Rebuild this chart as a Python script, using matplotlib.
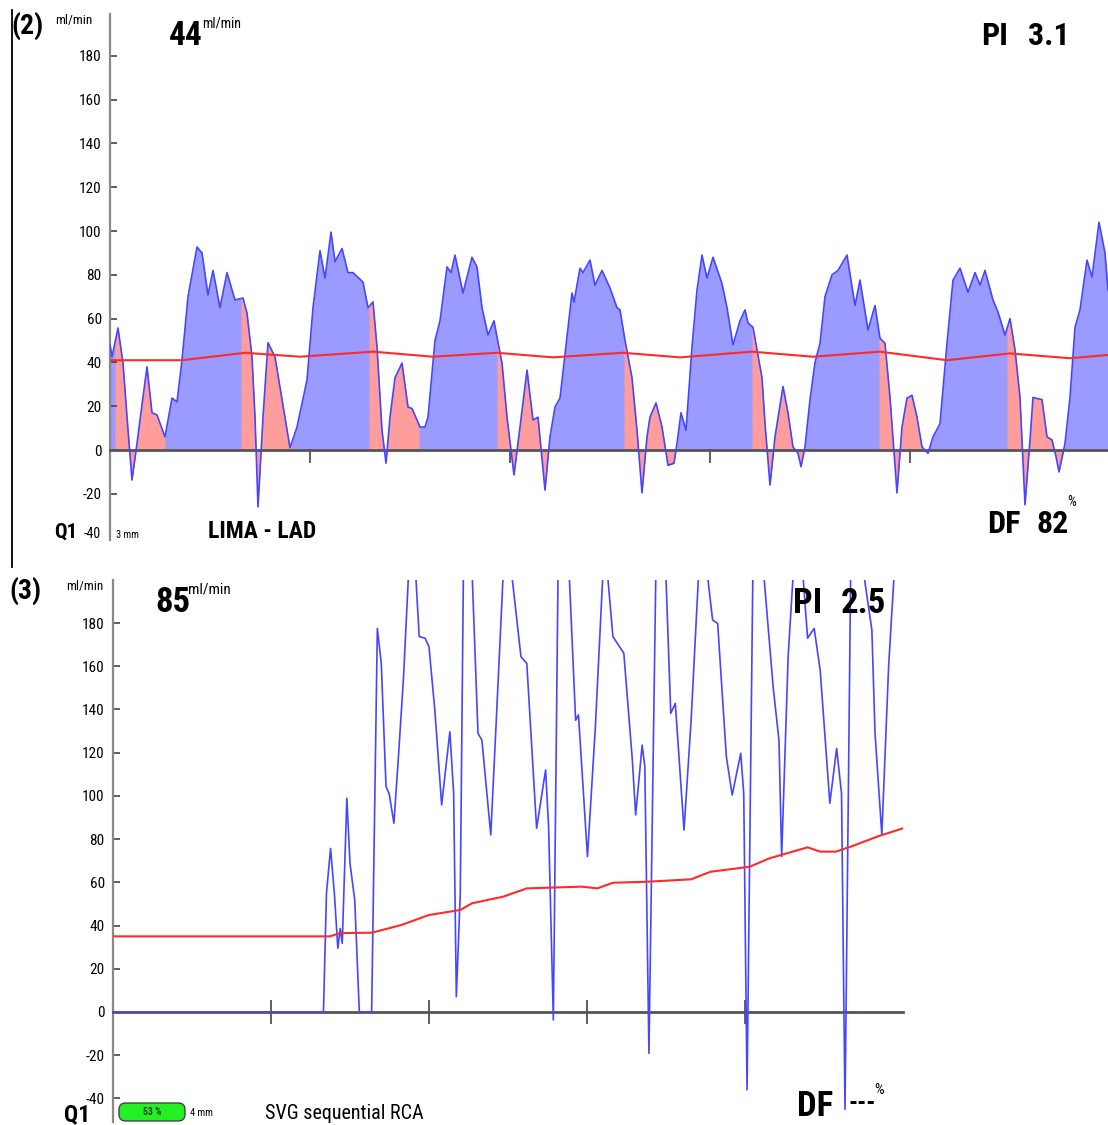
import numpy as np
import matplotlib
matplotlib.use("Agg")
import matplotlib.pyplot as plt
from matplotlib import font_manager
from matplotlib.patches import FancyBboxPatch
from matplotlib.lines import Line2D

W, H = 1108, 1125

# (2) LIMA - LAD : time (s) vs flow (ml/min)
top_t = [0.000, 0.010, 0.040, 0.065, 0.085, 0.110, 0.135, 0.150, 0.185, 0.210,
         0.235, 0.275, 0.310, 0.335, 0.360, 0.390, 0.435, 0.460, 0.490, 0.515,
         0.550, 0.585, 0.625, 0.665, 0.685, 0.710, 0.725, 0.740, 0.765, 0.790,
         0.825, 0.860, 0.900, 0.935, 0.985, 1.015, 1.050, 1.075, 1.105, 1.125,
         1.160, 1.190, 1.215, 1.265, 1.290, 1.315, 1.335, 1.360, 1.380, 1.400,
         1.425, 1.460, 1.490, 1.510, 1.550, 1.575, 1.590, 1.625, 1.650, 1.685,
         1.705, 1.725, 1.765, 1.810, 1.835, 1.860, 1.890, 1.920, 1.935, 1.960,
         1.985, 2.020, 2.050, 2.085, 2.115, 2.140, 2.175, 2.200, 2.225, 2.250,
         2.285, 2.310, 2.320, 2.350, 2.365, 2.400, 2.425, 2.460, 2.500, 2.535,
         2.550, 2.575, 2.610, 2.635, 2.660, 2.685, 2.700, 2.730, 2.760, 2.790,
         2.820, 2.835, 2.855, 2.880, 2.910, 2.935, 2.960, 2.985, 3.015, 3.060,
         3.085, 3.115, 3.150, 3.175, 3.190, 3.215, 3.235, 3.260, 3.275, 3.300,
         3.325, 3.365, 3.390, 3.415, 3.440, 3.455, 3.475, 3.500, 3.525, 3.550,
         3.575, 3.610, 3.640, 3.685, 3.725, 3.750, 3.790, 3.825, 3.850, 3.875,
         3.900, 3.935, 3.960, 3.985, 4.010, 4.035, 4.060, 4.090, 4.115, 4.150,
         4.185, 4.215, 4.250, 4.290, 4.325, 4.350, 4.375, 4.415, 4.440, 4.475,
         4.500, 4.525, 4.550, 4.575, 4.600, 4.615, 4.660, 4.685, 4.710, 4.730,
         4.745, 4.775, 4.800, 4.825, 4.850, 4.885, 4.910, 4.945, 4.975, 4.990]
top_flow = [48, 42.5, 55.7, 39.7, 15, -13.7, 3, 13.7, 38, 17,
            16, 6, 23.7, 22, 41, 70, 92.7, 90, 70.8, 82,
            65, 81, 68.5, 69.4, 62.5, 42.5, 15, -26, 15, 49,
            42.5, 23, 1, 10.5, 32, 65, 91, 78.5, 99.5, 86,
            92, 81, 81, 76.7, 65, 67.6, 47, 9, -6, 15,
            33, 39.7, 19.6, 19, 10.5, 10.5, 15, 50, 59, 83.6,
            81, 89, 71.7, 88, 83.6, 65, 52.5, 59, 51.6, 39.7,
            15, -11.4, 10.5, 36.5, 13.7, 15, -18.3, 6, 19.6, 23.7,
            51.6, 71.7, 67.6, 83, 81, 86.7, 75.3, 82, 74, 65,
            64, 50, 33, 9, -19.6, 6, 15, 21.5, 10.5, -7,
            -6, 3, 17, 9, 47, 73, 89, 78.5, 88, 76,
            65, 48, 59, 64, 58, 56, 45.7, 33, 12, -16,
            6, 29, 17, 1.4, -1.5, -7.6, 1.4, 23, 40, 48.7,
            70, 80, 82, 89, 66, 77.6, 54.8, 66, 51, 48.7,
            24, -19.6, 10.5, 23.7, 25, 15, 1.4, -1.5, 6, 12,
            48.7, 77.6, 83, 72, 81, 75.3, 82, 68.5, 63, 52.5,
            60, 45.7, 24, -25, 4.6, 24, 23, 6, 4.6, -3,
            -10, 3, 24, 56, 64, 86.7, 79, 104, 90, 73]
top_mean_t = [0.0, 0.36, 0.675, 0.95, 1.315, 1.615, 1.935, 2.215, 2.565, 2.85,
              3.21, 3.515, 3.85, 4.185, 4.5, 4.8, 4.99]
top_mean = [41, 41, 44.4, 42.6, 44.9, 42.6, 44.4, 42.3, 44.4, 42.3,
            44.9, 42.6, 44.9, 41, 44.1, 41.9, 43.4]
# systolic segments (pink fill)
top_systole = [(0.025, 0.275), (0.655, 0.910), (1.295, 1.545), (1.935, 2.195),
               (2.570, 2.835), (3.210, 3.465), (3.845, 4.095), (4.485, 4.775)]
top_yticks = [-20, 0, 20, 40, 60, 80, 100, 120, 140, 160, 180]

# (3) SVG sequential RCA
bot_t = [0.000, 1.332, 1.351, 1.377, 1.401, 1.423, 1.438, 1.451, 1.480, 1.500,
         1.530, 1.559, 1.637, 1.673, 1.698, 1.728, 1.748, 1.778, 1.808, 1.839,
         1.872, 1.892, 1.914, 1.938, 1.975, 2.000, 2.037, 2.080, 2.132, 2.156,
         2.173, 2.198, 2.218, 2.245, 2.272, 2.310, 2.335, 2.391, 2.434, 2.471,
         2.495, 2.520, 2.582, 2.619, 2.681, 2.738, 2.757, 2.787, 2.817, 2.851,
         2.886, 2.928, 2.946, 3.003, 3.053, 3.102, 3.114, 3.127, 3.164, 3.233,
         3.287, 3.308, 3.349, 3.366, 3.392, 3.436, 3.467, 3.498, 3.530, 3.559,
         3.614, 3.659, 3.708, 3.733, 3.758, 3.795, 3.827, 3.882, 3.919, 3.973,
         3.992, 4.013, 4.050, 4.082, 4.116, 4.178, 4.215, 4.232, 4.273, 4.307,
         4.335, 4.364, 4.396, 4.438, 4.476, 4.537, 4.580, 4.611, 4.633, 4.669,
         4.709, 4.747, 4.803, 4.823, 4.866, 4.909, 4.946]
bot_flow = [0, 0, 54.9, 75.7, 54.9, 29.5, 38.7, 31.8, 98.9, 68.8,
            51.8, 0, 0, 177.5, 161.3, 104.3, 101, 87.3, 119.7, 155.2,
            205, 230, 205, 173.7, 173, 169, 139.7, 95.8, 129.7, 101,
            7.1, 54.9, 205, 230, 205, 129, 125.7, 81.9, 147.5, 205,
            230, 205, 164.4, 161.3, 85, 112, 85.6, -3.7, 205, 230,
            205, 135, 137.5, 71.9, 132, 205, 230, 205, 173.7, 166,
            116.6, 91.2, 123.5, 113.6, -19.1, 205, 230, 205, 138.2, 142.8,
            84.2, 135, 205, 230, 205, 181.4, 179.8, 118.1, 100.4, 119.7,
            101, -36, 205, 230, 205, 150.5, 125.7, 71.9, 164.4, 205,
            230, 205, 173, 177.5, 158, 96.6, 122, 101, -45, 205,
            230, 205, 176.8, 129, 81.9, 160, 205]
bot_mean_t = [0.000, 1.373, 1.437, 1.639, 1.827, 2.000, 2.198, 2.272, 2.471, 2.619,
              2.966, 3.065, 3.164, 3.386, 3.659, 3.782, 4.029, 4.154, 4.396, 4.476,
              4.575, 4.673, 4.846, 5.000]
bot_mean = [35, 35, 36.5, 36.7, 40.3, 44.9, 47.2, 50.3, 53.4, 57.2,
            58, 57.2, 59.8, 60.3, 61.4, 64.9, 67.2, 71.1, 76.2, 74.2,
            74.2, 76.6, 81.4, 85]
bot_yticks = [-40, -20, 0, 20, 40, 60, 80, 100, 120, 140, 160, 180]


def pick_narrow_font():
    entries = font_manager.fontManager.ttflist
    names = {f.name for f in entries}
    for fam in ("Liberation Sans Narrow", "Roboto Condensed", "Noto Sans Condensed",
                "Open Sans Condensed", "DejaVu Sans Condensed"):
        if fam in names:
            return fam, "normal"
    for f in entries:
        if f.name == "DejaVu Sans" and "condensed" in str(f.stretch):
            return "DejaVu Sans", "condensed"
    return "Liberation Sans", "normal"


NARROW, STRETCH = pick_narrow_font()

BLUE_LINE = "#4646ff"
BLUE_FILL = "#9a9aff"
PINK_FILL = "#ff9c9c"
RED = "#ff2a2a"
AXIS_GRAY = "#8a8a8a"
ZERO_GRAY = "#555555"

fig = plt.figure(figsize=(W / 100, H / 100), dpi=100)


def add_axes_px(x0, x1, ytop, ybot):
    return fig.add_axes([x0 / W, 1 - ybot / H, (x1 - x0) / W, (ybot - ytop) / H])


def text_px(x, y, s, **kw):
    kw.setdefault("family", NARROW)
    kw.setdefault("fontstretch", STRETCH)
    fig.text(x / W, 1 - y / H, s, **kw)


def style_axes(ax, yticks, tick_dir, tick_len):
    for side in ("top", "right"):
        ax.spines[side].set_visible(False)
    ax.spines["left"].set_color(AXIS_GRAY)
    ax.spines["left"].set_linewidth(1.6)
    ax.spines["bottom"].set_position(("data", 0))
    ax.spines["bottom"].set_color(ZERO_GRAY)
    ax.spines["bottom"].set_linewidth(2.0)
    ax.set_yticks(yticks)
    ax.set_yticklabels([str(v) for v in yticks], family=NARROW, fontstretch=STRETCH,
                       fontsize=11)
    ax.tick_params(axis="y", direction="in", length=5, width=1.2, color="#444444", pad=6)
    ax.set_xticks([1, 2, 3, 4])
    ax.set_xticklabels([])
    ax.tick_params(axis="x", direction=tick_dir, length=tick_len, width=1.2, color="#444444")
    ax.patch.set_visible(False)


# ---------------- panel (2)
ax1 = add_axes_px(110, 1108, 14.2, 539.8)
t1 = np.array(top_t)
f1 = np.array(top_flow)
ax1.fill_between(t1, f1, 0, color=BLUE_FILL, lw=0, zorder=1)
for a, b in top_systole:
    inside = (t1 > a) & (t1 < b)
    ts = np.concatenate([[a], t1[inside], [b]])
    fs = np.interp(ts, t1, f1)
    ax1.fill_between(ts, fs, 0, color=PINK_FILL, lw=0, zorder=1.1)
ax1.plot(t1, f1, color=BLUE_LINE, lw=1.2, zorder=3)
ax1.plot(top_mean_t, top_mean, color=RED, lw=1.5, zorder=4)
ax1.set_xlim(0, 4.99)
ax1.set_ylim(-41, 199)
style_axes(ax1, top_yticks, "out", 9)

# ---------------- panel (3)
ax2 = add_axes_px(113, 903, 579.8, 1122.2)
ax2.plot(bot_t, bot_flow, color=BLUE_LINE, lw=1.2, zorder=3)
ax2.plot(bot_mean_t, bot_mean, color=RED, lw=1.5, zorder=4)
ax2.set_xlim(0, 5.0)
ax2.set_ylim(-51, 200)
style_axes(ax2, bot_yticks, "inout", 17)

# frame line to the left of panel (2)
fig.add_artist(Line2D([12 / W, 12 / W], [1 - 10 / H, 1 - 567 / H], color="black", lw=1.3))

# ---------------- texts, panel (2)
text_px(11, 34, "(2)", fontsize=20, fontweight="bold")
text_px(55, 24, "ml/min", fontsize=9.5)
text_px(169, 45, "44", fontsize=24, fontweight="bold")
text_px(202, 27, "ml/min", fontsize=10)
text_px(981, 45, "PI", fontsize=23, fontweight="bold")
text_px(1028, 45, "3.1", fontsize=23, fontweight="bold")
text_px(54, 538, "Q1", fontsize=15, fontweight="bold")
text_px(84, 538, "-40", fontsize=10)
text_px(116, 538, "3 mm", fontsize=7.5)
text_px(208, 538, "LIMA - LAD", fontsize=17, fontweight="bold")
text_px(987, 533, "DF", fontsize=23, fontweight="bold")
text_px(1036, 533, "82", fontsize=23, fontweight="bold")
text_px(1067, 506, "%", fontsize=10)

# ---------------- texts, panel (3)
text_px(9, 599, "(3)", fontsize=20, fontweight="bold")
text_px(66, 590, "ml/min", fontsize=9.5)
text_px(155, 612, "85", fontsize=25, fontweight="bold")
text_px(188, 593, "ml/min", fontsize=11)
text_px(793, 613, "PI", fontsize=25, fontweight="bold")
text_px(841, 613, "2.5", fontsize=25, fontweight="bold")
text_px(64, 1121, "Q1", fontsize=17, fontweight="bold")
box = FancyBboxPatch((119 / W, 1 - 1121 / H), 66 / W, 18 / H,
                     boxstyle="round,pad=0,rounding_size=0.006",
                     transform=fig.transFigure, facecolor="#22f022",
                     edgecolor="#444444", lw=1.0)
fig.add_artist(box)
text_px(152, 1112, "53 %", fontsize=7, fontweight="bold", ha="center", va="center",
        color="#204020")
text_px(190, 1116, "4 mm", fontsize=7.5)
text_px(265, 1119, "SVG sequential RCA", fontsize=14.5)
text_px(797, 1116, "DF", fontsize=25, fontweight="bold")
text_px(848, 1110, "---", fontsize=18, fontweight="bold")
text_px(874, 1094, "%", fontsize=11)

fig.savefig("out.png", dpi=100, facecolor="white")
